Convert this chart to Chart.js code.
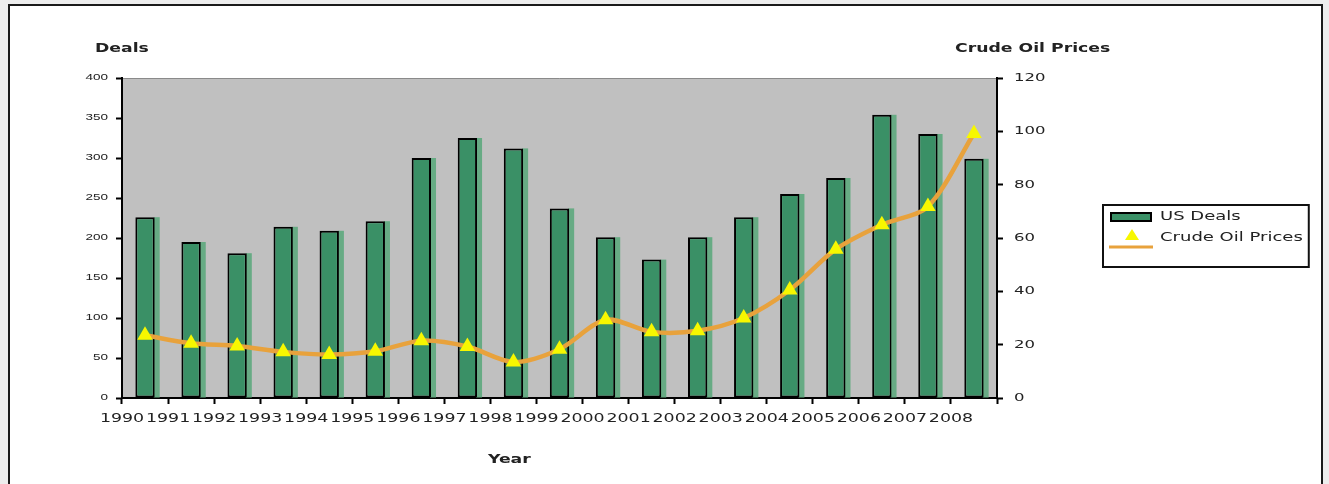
<!DOCTYPE html>
<html>
<head>
<meta charset="utf-8">
<script src="https://cdn.jsdelivr.net/npm/chart.js@4.4.1/dist/chart.umd.min.js"></script>
<style>
  html, body { margin: 0; padding: 0; background: #ededed; }
  canvas { display: block; }
</style>
</head>
<body>
<canvas id="chart" width="1329" height="484"></canvas>
<script>
// Annual figures, 1990-2008
const years = ['1990', '1991', '1992', '1993', '1994', '1995', '1996', '1997', '1998', '1999',
               '2000', '2001', '2002', '2003', '2004', '2005', '2006', '2007', '2008'];
const usDeals = [226, 195, 181, 214, 209, 221, 300, 325, 312, 237,
                 201, 173, 201, 226, 255, 275, 354, 330, 299];
const crudeOilPrices = [23.5, 20.5, 19.5, 17.3, 16.3, 17.5, 21.5, 19.3, 13.5, 18.3,
                        29.3, 24.8, 25.2, 30.0, 40.5, 55.8, 65.0, 71.8, 99.2];

// Axis ranges and tick steps
const dealsRange = [0, 400];
const dealsStep = 50;
const priceRange = [0, 120];
const priceStep = 20;

const FONT = 'DejaVu Sans';
const TEXT = '#222';
const GREEN = '#3a9066';
const GREEN_EDGE = '#67ab84';
const ORANGE = '#e8a23c';
const YELLOW = '#f7f700';
const PLOT_BG = '#c0c0c0';
const TEXT_STRETCH = 1.5;   // horizontal widening of every text run

const canvas = document.getElementById('chart');
const ctx2d = canvas.getContext('2d');

// Wide lettering: text is drawn and measured with a horizontal stretch about its anchor
(function () {
  const proto = CanvasRenderingContext2D.prototype;
  const fill = proto.fillText;
  const measure = proto.measureText;
  ctx2d.fillText = function (text, x, y) {
    this.save();
    this.translate(x, y);
    this.scale(TEXT_STRETCH, 1);
    fill.call(this, text, 0, 0);
    this.restore();
  };
  ctx2d.measureText = function (text) {
    const m = measure.call(this, text);
    return {
      width: m.width * TEXT_STRETCH,
      actualBoundingBoxLeft: m.actualBoundingBoxLeft * TEXT_STRETCH,
      actualBoundingBoxRight: m.actualBoundingBoxRight * TEXT_STRETCH,
      actualBoundingBoxAscent: m.actualBoundingBoxAscent,
      actualBoundingBoxDescent: m.actualBoundingBoxDescent,
      fontBoundingBoxAscent: m.fontBoundingBoxAscent,
      fontBoundingBoxDescent: m.fontBoundingBoxDescent
    };
  };
})();

// Legend symbols: a framed bar and a line with a triangle marker
function barSymbol() {
  const c = document.createElement('canvas');
  c.width = 46; c.height = 14;
  const g = c.getContext('2d');
  g.fillStyle = GREEN;
  g.fillRect(3, 3, 40, 8);
  g.strokeStyle = '#000';
  g.lineWidth = 2;
  g.strokeRect(3, 3, 40, 8);
  return c;
}
function lineSymbol() {
  const c = document.createElement('canvas');
  c.width = 46; c.height = 28;
  const g = c.getContext('2d');
  g.strokeStyle = ORANGE;
  g.lineWidth = 3;
  g.beginPath(); g.moveTo(1, 23); g.lineTo(45, 23); g.stroke();
  g.fillStyle = YELLOW;
  g.beginPath(); g.moveTo(24, 5); g.lineTo(31, 16); g.lineTo(17, 16); g.closePath(); g.fill();
  return c;
}
const legendSymbols = [barSymbol(), lineSymbol()];

// Outer frame and grey plot area
const framePlugin = {
  id: 'frame',
  beforeDraw(chart) {
    const { ctx, chartArea: a } = chart;
    ctx.save();
    ctx.fillStyle = '#ededed';
    ctx.fillRect(0, 0, chart.width, chart.height);
    ctx.fillStyle = '#ffffff';
    ctx.fillRect(9, 5, 1313, 490);
    ctx.strokeStyle = '#1a1a1a';
    ctx.lineWidth = 2;
    ctx.strokeRect(9, 5, 1313, 490);
    ctx.fillStyle = PLOT_BG;
    ctx.fillRect(a.left, a.top, a.right - a.left, a.bottom - a.top);
    ctx.strokeStyle = '#8a8a8a';
    ctx.lineWidth = 1;
    ctx.beginPath();
    ctx.moveTo(a.left, a.top + 0.5);
    ctx.lineTo(a.right, a.top + 0.5);
    ctx.stroke();
    ctx.restore();
  }
};

// Lighter green edge on the right side of each bar
const barEdgePlugin = {
  id: 'barEdge',
  beforeDatasetsDraw(chart) {
    const meta = chart.getDatasetMeta(0);
    const ctx = chart.ctx;
    ctx.save();
    ctx.fillStyle = GREEN_EDGE;
    meta.data.forEach(el => {
      const { x, y, base, width } = el.getProps(['x', 'y', 'base', 'width'], true);
      ctx.fillRect(x + width / 2 - 1, y, 6, base - y);
    });
    ctx.restore();
  }
};

// Legend placement beside the right axis, and its frame
const legendBoxPlugin = {
  id: 'legendBox',
  afterLayout(chart) {
    const lg = chart.legend;
    const a = chart.chartArea;
    if (!lg || !lg.columnSizes || !lg.columnSizes.length) return;
    const pad = lg.options.labels.padding;
    const col = lg.columnSizes[0];
    lg.left = a.right + 102;
    lg.right = lg.left + pad + col.width;
    lg.width = lg.right - lg.left;
    lg.top = a.top + 124;
    lg.bottom = lg.top + pad + col.height;
    lg.height = lg.bottom - lg.top;
  },
  afterDraw(chart) {
    const lg = chart.legend;
    if (!lg) return;
    const ctx = chart.ctx;
    ctx.save();
    ctx.strokeStyle = '#111';
    ctx.lineWidth = 2;
    ctx.strokeRect(lg.left + 4, lg.top + 3, lg.right - lg.left + 2, 62);
    ctx.restore();
  }
};

// Axis titles: value titles above each axis, category title below
const axisTitlePlugin = {
  id: 'axisTitles',
  afterDraw(chart) {
    const { ctx, chartArea: a } = chart;
    ctx.save();
    ctx.font = 'bold 11.5px "' + FONT + '"';
    ctx.fillStyle = TEXT;
    ctx.textBaseline = 'middle';
    ctx.textAlign = 'left';
    ctx.fillText('Deals', a.left - 27, a.top - 29);
    ctx.fillText('Crude Oil Prices', a.right - 42, a.top - 29);
    ctx.fillText('Year', a.left + 366, a.bottom + 62);
    ctx.restore();
  }
};

Chart.defaults.font.family = FONT;
Chart.defaults.color = TEXT;

new Chart(canvas, {
  type: 'bar',
  data: {
    labels: years,
    datasets: [
      {
        type: 'bar',
        label: 'US Deals',
        data: usDeals,
        yAxisID: 'y',
        order: 2,
        backgroundColor: GREEN,
        borderColor: '#000',
        borderWidth: 2,
        borderSkipped: false,
        categoryPercentage: 1,
        barPercentage: 0.42
      },
      {
        type: 'line',
        label: 'Crude Oil Prices',
        data: crudeOilPrices,
        yAxisID: 'y1',
        order: 1,
        borderColor: ORANGE,
        borderWidth: 4.5,
        tension: 0.3,
        pointStyle: 'triangle',
        pointRadius: 9,
        pointBackgroundColor: YELLOW,
        pointBorderColor: YELLOW,
        pointBorderWidth: 0
      }
    ]
  },
  options: {
    responsive: false,
    animation: false,
    events: [],
    layout: { padding: { left: 10, right: 81, top: 78, bottom: 0 } },
    scales: {
      x: {
        type: 'category',
        offset: true,
        grid: {
          offset: true,
          drawOnChartArea: false,
          drawTicks: true,
          tickLength: 6,
          tickColor: '#000',
          tickWidth: 2
        },
        border: { display: true, color: '#000', width: 2 },
        ticks: {
          autoSkip: false,
          maxRotation: 0,
          minRotation: 0,
          labelOffset: -23,
          padding: 8,
          color: TEXT,
          font: { size: 11.6 }
        },
        afterFit(scale) { scale.height = 86; }
      },
      y: {
        position: 'left',
        min: dealsRange[0],
        max: dealsRange[1],
        grid: { drawOnChartArea: false, tickLength: 6, tickColor: '#000', tickWidth: 2 },
        border: { display: true, color: '#000', width: 2 },
        ticks: { stepSize: dealsStep, padding: 8, color: TEXT, font: { family: 'Liberation Sans', size: 9 } },
        afterFit(scale) { scale.width = 112; }
      },
      y1: {
        position: 'right',
        min: priceRange[0],
        max: priceRange[1],
        grid: { drawOnChartArea: false, tickLength: 6, tickColor: '#000', tickWidth: 2 },
        border: { display: true, color: '#000', width: 2 },
        ticks: { stepSize: priceStep, padding: 11, color: TEXT, font: { size: 11 } },
        afterFit(scale) { scale.width = 101; }
      }
    },
    plugins: {
      tooltip: { enabled: false },
      legend: {
        position: 'right',
        fullSize: false,
        maxWidth: 150,
        labels: {
          usePointStyle: true,
          pointStyleWidth: 46,
          padding: 9,
          color: TEXT,
          font: { size: 12 },
          sort: (a, b) => a.datasetIndex - b.datasetIndex,
          generateLabels(chart) {
            const items = Chart.defaults.plugins.legend.labels.generateLabels(chart);
            return items.map(it => Object.assign(it, { pointStyle: legendSymbols[it.datasetIndex] }));
          }
        }
      }
    }
  },
  plugins: [framePlugin, barEdgePlugin, legendBoxPlugin, axisTitlePlugin]
});
</script>
</body>
</html>
